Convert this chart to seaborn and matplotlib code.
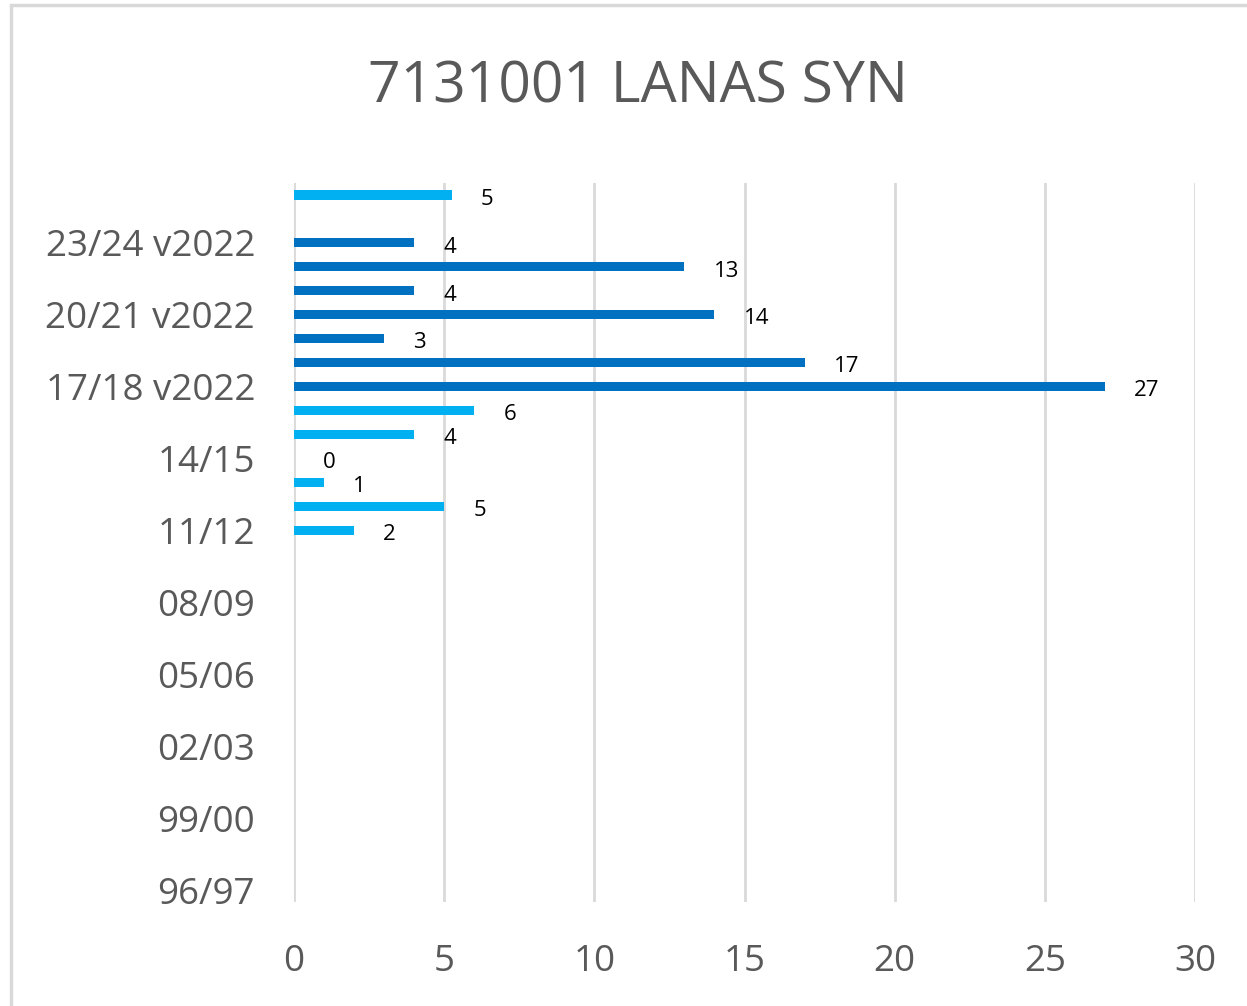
import numpy as np
import pandas as pd
import matplotlib
matplotlib.use("Agg")
import matplotlib.pyplot as plt
import seaborn as sns
from matplotlib.patches import Rectangle

# Datos (orden cronologico, de abajo hacia arriba)
temporadas = ["96/97", "97/98", "98/99", "99/00", "00/01", "01/02", "02/03", "03/04",
              "04/05", "05/06", "06/07", "07/08", "08/09", "09/10", "10/11", "11/12",
              "12/13", "13/14", "14/15", "15/16", "16/17", "17/18 v2022", "18/19 v2022",
              "19/20 v2022", "20/21 v2022", "21/22 v2022", "22/23 v2022", "23/24 v2022",
              "24/25 v2022", "24/25"]
valores = [np.nan] * 15 + [2, 5, 1, 0, 4, 6, 27, 17, 3, 14, 4, 13, 4, np.nan, 5.25]
grupo = ["antigua"] * 21 + ["v2022"] * 8 + ["antigua"]
etiquetas_visibles = temporadas[::3]

colores = {"antigua": "#00B0F0", "v2022": "#0070C0"}

sns.set_theme(style="white")
plt.rcParams['font.family'] = ['Open Sans', 'DejaVu Sans']

df = pd.DataFrame({"temporada": temporadas, "valor": valores, "grupo": grupo})

fig = plt.figure(figsize=(12.47, 10.06), dpi=100)
ax = fig.add_axes([294 / 1247, 1 - 902 / 1006, (1195 - 294) / 1247, (902 - 183) / 1006])

orden = temporadas[::-1]
sns.barplot(data=df, y="temporada", x="valor", hue="grupo", order=orden,
            palette=colores, dodge=False, width=0.38, legend=False, ax=ax,
            orient="h", saturation=1, linewidth=0)

# Etiquetas de datos
for t, v in zip(temporadas, valores):
    if pd.isna(v):
        continue
    ax.annotate(f"{v:.0f}", xy=(v, orden.index(t)), xytext=(21, -3),
                textcoords="offset points", ha="left", va="center",
                fontsize=16, color="black")

ax.set_xlim(0, 30)
ax.set_ylim(len(orden) - 0.5, -0.5)
ax.set_xticks(range(0, 31, 5))
ax.set_yticks([orden.index(t) for t in etiquetas_visibles])
ax.set_yticklabels(etiquetas_visibles)
ax.tick_params(axis="both", length=0, labelsize=26.5, labelcolor="#595959")
ax.tick_params(axis="y", pad=28)
ax.tick_params(axis="x", pad=30)
ax.set_xlabel("")
ax.set_ylabel("")
ax.xaxis.grid(True, color="#D9D9D9", linewidth=2)
ax.yaxis.grid(False)
ax.set_axisbelow(True)
for s in ax.spines.values():
    s.set_visible(False)

fig.text(638 / 1247, 1 - 88 / 1006, "7131001 LANAS SYN", ha="center", va="center",
         fontsize=41, color="#595959")

# Borde del area del grafico
fig.patches.append(Rectangle((11 / 1247, -0.05), 1.2, 1 - 5 / 1006 + 0.05,
                             transform=fig.transFigure, fill=False,
                             edgecolor="#D9D9D9", linewidth=2.5))

fig.savefig("out.png", dpi=100)
